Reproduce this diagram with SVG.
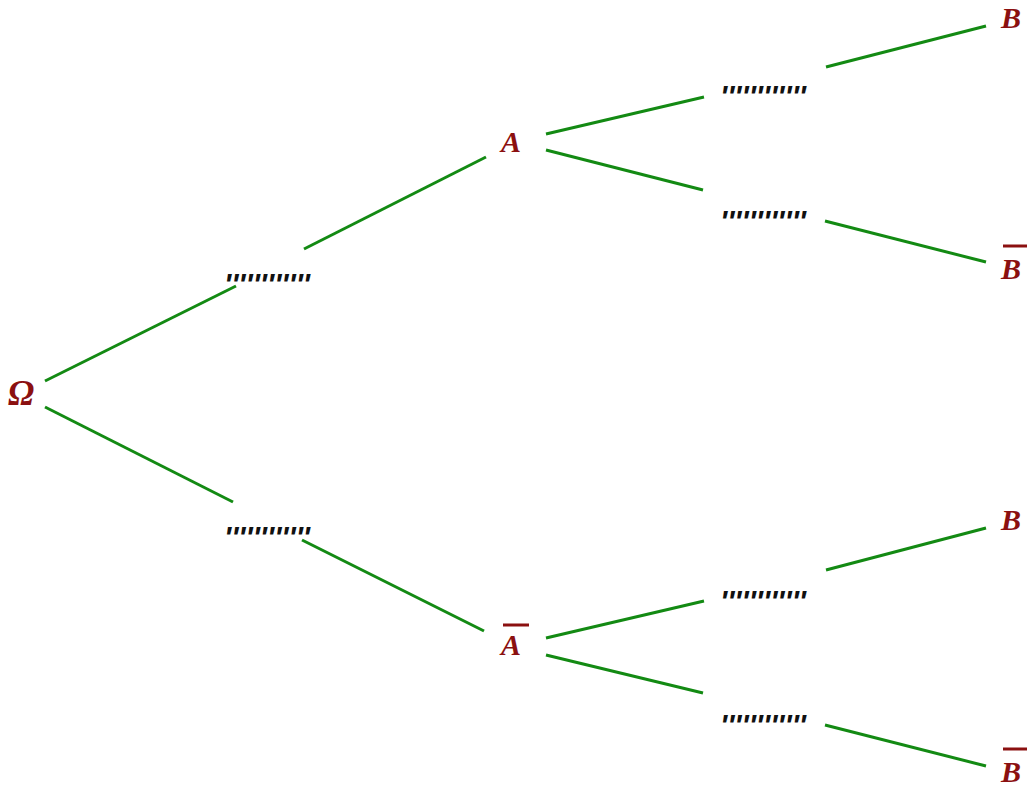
<svg xmlns="http://www.w3.org/2000/svg" width="1028" height="787" viewBox="0 0 1028 787">
<style>
.lbl{font-family:"Liberation Serif",serif;font-weight:bold;font-style:italic;font-size:30px;fill:#8b1010}
.dots{font-family:"Liberation Sans",sans-serif;font-weight:bold;font-style:italic;font-size:30px;fill:#111}
.bar{stroke:#8b1010;stroke-width:3}
.edge{stroke:#138a13;stroke-width:3;fill:none}
</style>
<rect width="1028" height="787" fill="#fff"/>
<g id="connectors">
<line class="edge" x1="45" y1="381" x2="236" y2="286"/>
<line class="edge" x1="304" y1="249" x2="486" y2="157"/>
<line class="edge" x1="45" y1="407" x2="233" y2="502"/>
<line class="edge" x1="302" y1="540" x2="484" y2="631"/>
<line class="edge" x1="546" y1="134" x2="704" y2="97"/>
<line class="edge" x1="826" y1="67" x2="986" y2="26"/>
<line class="edge" x1="546" y1="150" x2="703" y2="190"/>
<line class="edge" x1="825" y1="221" x2="986" y2="262"/>
<line class="edge" x1="546" y1="638" x2="704" y2="601"/>
<line class="edge" x1="826" y1="570" x2="986" y2="528"/>
<line class="edge" x1="546" y1="655" x2="703" y2="693"/>
<line class="edge" x1="825" y1="725" x2="986" y2="766"/>
</g>
<g id="omega"><text class="lbl" x="8" y="405" style="font-size:35px">Ω</text></g>
<g id="p1"><text class="dots" x="224" y="294" textLength="86" lengthAdjust="spacing">''''''''''''</text></g>
<g id="p2"><text class="dots" x="224" y="547" textLength="86" lengthAdjust="spacing">''''''''''''</text></g>
<g id="p3"><text class="dots" x="720" y="106" textLength="86" lengthAdjust="spacing">''''''''''''</text></g>
<g id="p4"><text class="dots" x="720" y="231" textLength="86" lengthAdjust="spacing">''''''''''''</text></g>
<g id="p5"><text class="dots" x="720" y="611" textLength="86" lengthAdjust="spacing">''''''''''''</text></g>
<g id="p6"><text class="dots" x="720" y="735" textLength="86" lengthAdjust="spacing">''''''''''''</text></g>
<g id="A"><text class="lbl" x="501" y="152">A</text></g>
<g id="Abar"><line class="bar" x1="503" y1="625" x2="529" y2="625"/><text class="lbl" x="501" y="655">A</text></g>
<g id="B1"><text class="lbl" x="1001" y="28">B</text></g>
<g id="B2"><line class="bar" x1="1003" y1="246" x2="1027" y2="246"/><text class="lbl" x="1001" y="279">B</text></g>
<g id="B3"><text class="lbl" x="1001" y="530">B</text></g>
<g id="B4"><line class="bar" x1="1003" y1="749" x2="1027" y2="749"/><text class="lbl" x="1001" y="782">B</text></g>
</svg>
